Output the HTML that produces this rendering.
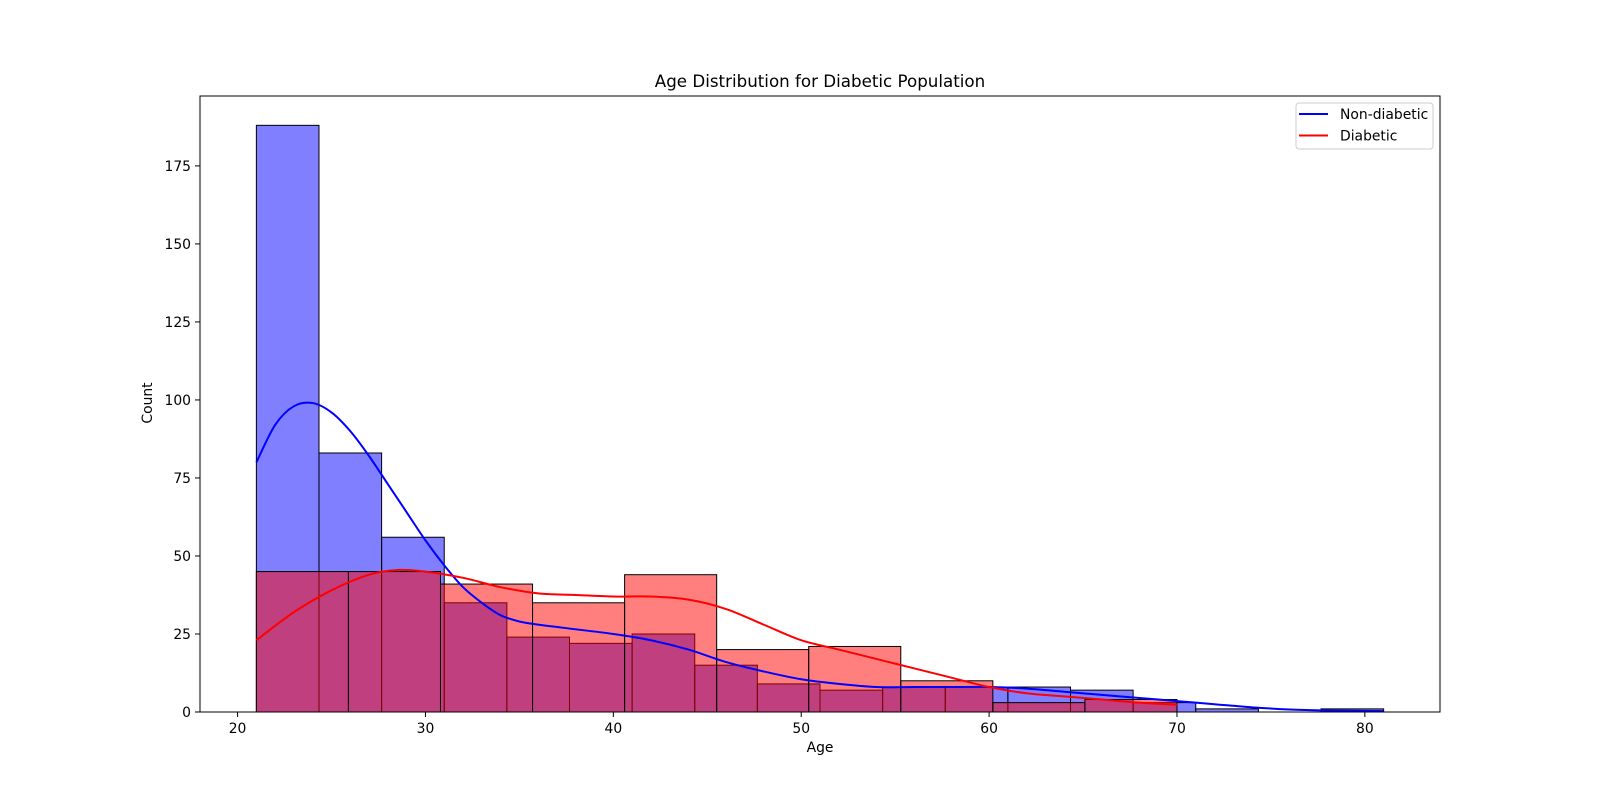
<!DOCTYPE html>
<html><head><meta charset="utf-8"><style>
body{margin:0;background:#fff}
svg text{font-family:"DejaVu Sans","Liberation Sans",sans-serif;fill:#000}
</style></head><body>
<svg id="chart" width="1600" height="800" xmlns="http://www.w3.org/2000/svg">
<rect width="1600" height="800" fill="#fff"/>
<text x="820" y="87" font-size="16.7" text-anchor="middle">Age Distribution for Diabetic Population</text>
<g id="bars"></g>
<g id="curves"></g>
<rect x="200" y="96" width="1240" height="616" fill="none" stroke="#000" stroke-width="1"/>
<g id="ticks"></g>
<text x="820" y="752" font-size="13.9" text-anchor="middle">Age</text>
<text x="0" y="0" font-size="13.9" text-anchor="middle" transform="translate(152,403) rotate(-90)">Count</text>
<g>
<rect x="1296" y="103" width="137" height="46" rx="3" fill="#fff" fill-opacity="0.8" stroke="#ccc"/>
<line x1="1299" y1="114" x2="1328" y2="114" stroke="#00f" stroke-width="2"/>
<text x="1340" y="119" font-size="13.9">Non-diabetic</text>
<line x1="1299" y1="135.5" x2="1328" y2="135.5" stroke="#f00" stroke-width="2"/>
<text x="1340" y="140.5" font-size="13.9">Diabetic</text>
</g>
</svg>
<script>
const blueStart = 21, blueWidth = 60/18;
const blueCounts = [188,83,56,35,24,22,25,15,9,7,8,8,8,7,3,1,0,1];
const redStart = 21, redWidth = 4.9;
const redCounts = [45,45,41,35,44,20,21,10,3,4];
const blueKdeX = [21,22,23,24,25,26,27,28,29,30,31,32,33,34,35,36,38,40,42,44,46,48,50,52,54,56,58,60,62,64,66,68,70,72,74,76,78,81];
const blueKdeY = [80,92,98,99,96,90,82,73,64,55,47,40,35,31,29,28,26.5,25,23,20,16,13,10.5,9,8,8,8,8,7.5,6.5,5.5,4.5,3.5,2.5,1.5,0.8,0.5,0.3];
const redKdeX = [21,23,25,27,28.5,30,32,34,36,38,40,42,44,46,48,50,52,54,56,58,60,62,64,66,68,70];
const redKdeY = [23,32,39,44,45.5,45,43,40,38,37.5,37,37,36,33,28,23,20,17,14,11,8,6,5,4,3,2.3];
const xTicks = [20,30,40,50,60,70,80];
const yTicks = [0,25,50,75,100,125,150,175];

const NS = "http://www.w3.org/2000/svg";
const X = v => 200 + (v - 18) * 1240 / 66;
const Y = v => 712 - v * 616 / 197.4;
function mk(tag, attrs, parent){const e=document.createElementNS(NS,tag);for(const k in attrs)e.setAttribute(k,attrs[k]);parent.appendChild(e);return e;}
const bars = document.getElementById('bars');
blueCounts.forEach((c,i)=>{
  const x0=X(blueStart+i*blueWidth), x1=X(blueStart+(i+1)*blueWidth);
  const r=mk('rect',{x:x0,y:Y(c),width:x1-x0,height:Y(0)-Y(c),fill:'#0000ff','fill-opacity':0.5,stroke:'#000','stroke-width':1},bars);
  
  
});
redCounts.forEach((c,i)=>{
  const x0=X(redStart+i*redWidth), x1=X(redStart+(i+1)*redWidth);
  const r=mk('rect',{x:x0,y:Y(c),width:x1-x0,height:Y(0)-Y(c),fill:'#ff0000','fill-opacity':0.5,stroke:'#000','stroke-width':1},bars);
  
  
});
function smooth(xs,ys){
  const p=xs.map((x,i)=>[X(x),Y(ys[i])]);
  let d=`M${p[0][0]},${p[0][1]}`;
  for(let i=0;i<p.length-1;i++){
    const p0=p[i-1]||p[i],p1=p[i],p2=p[i+1],p3=p[i+2]||p2;
    d+=` C${p1[0]+(p2[0]-p0[0])/6},${p1[1]+(p2[1]-p0[1])/6} ${p2[0]-(p3[0]-p1[0])/6},${p2[1]-(p3[1]-p1[1])/6} ${p2[0]},${p2[1]}`;
  }
  return d;
}
const curves=document.getElementById('curves');
const bl=mk('path',{d:smooth(blueKdeX,blueKdeY),fill:'none',stroke:'#00f','stroke-width':2},curves);


const rl=mk('path',{d:smooth(redKdeX,redKdeY),fill:'none',stroke:'#f00','stroke-width':2},curves);


const ticks=document.getElementById('ticks');
xTicks.forEach(t=>{
  const l=mk('line',{x1:X(t),x2:X(t),y1:712,y2:717,stroke:'#000'},ticks);
  
  
  const tx=mk('text',{x:X(t),y:733,'font-size':13.9,'text-anchor':'middle'},ticks);
  tx.textContent=t;
  
  
});
yTicks.forEach(t=>{
  const l=mk('line',{x1:195,x2:200,y1:Y(t),y2:Y(t),stroke:'#000'},ticks);
  
  
  const tx=mk('text',{x:191,y:Y(t)+5,'font-size':13.9,'text-anchor':'end'},ticks);
  tx.textContent=t;
  
  
});
</script>
</body></html>
